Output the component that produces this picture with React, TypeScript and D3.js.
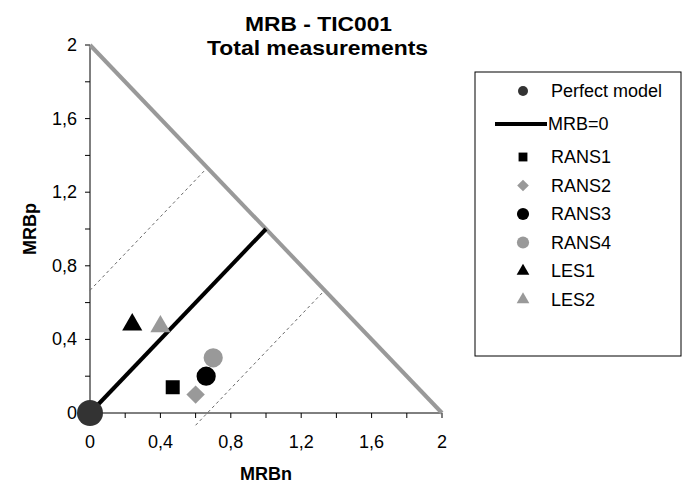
import React from "react";
import * as d3 from "d3";

const seriesNames = ["RANS1", "RANS2", "RANS3", "RANS4", "LES1", "LES2"];
const mrbN = [0.47, 0.6, 0.66, 0.7, 0.24, 0.4];
const mrbP = [0.14, 0.1, 0.2, 0.3, 0.48, 0.47];
const shapes = ["square", "diamond", "circle", "circle", "triangle", "triangle"];
const fills = ["#000", "#999", "#000", "#999", "#000", "#999"];

const tickValues = [0, 0.4, 0.8, 1.2, 1.6, 2];
const minorTicks = d3.range(0, 2.01, 0.2);

// MRB = 0 line and the two dashed guide lines
const zeroLine = [[0, 0], [1, 1]];
const guideUpper = [[0, 2 / 3], [2 / 3, 4 / 3]];
const guideLower = [[0.6, -1 / 15], [4 / 3, 2 / 3]];
const boundary = [[0, 2], [2, 0]];

const W = 684;
const H = 484;
const font = "Arial, 'Liberation Sans', sans-serif";

const symbolPath = (shape: string, big: boolean) => {
  const k = big ? 1 : 0.4;
  if (shape === "square") return d3.symbol(d3.symbolSquare, 196 * k)();
  if (shape === "diamond") return d3.symbol(d3.symbolSquare, 170 * k)();
  if (shape === "triangle") return d3.symbol(d3.symbolTriangle, 175 * k)();
  return d3.symbol(d3.symbolCircle, 290 * k)();
};

export default function App() {
  const x = d3.scaleLinear().domain([0, 2]).range([90, 442]);
  const y = d3.scaleLinear().domain([0, 2]).range([413, 45]);
  const line = d3
    .line<number[]>()
    .x((d) => x(d[0]))
    .y((d) => y(d[1]));

  const legendRows = [
    { label: "Perfect model", y: 91 },
    { label: "MRB=0", y: 124 },
    ...seriesNames.map((s, i) => ({ label: s, y: 157 + i * 28.5 })),
  ];

  return (
    <svg
      width={W}
      height={H}
      style={{ position: "absolute", left: 0, top: 0, background: "#fff" }}
      fontFamily={font}
    >
      <rect width={W} height={H} fill="#fff" />
      <text x={245} y={31} fontSize={20} fontWeight="bold" textLength={147} lengthAdjust="spacingAndGlyphs">
        MRB - TIC001
      </text>
      <text x={207} y={55} fontSize={20} fontWeight="bold" textLength={221} lengthAdjust="spacingAndGlyphs">
        Total measurements
      </text>

      {/* axes */}
      <line x1={x(0)} x2={x(0)} y1={y(0)} y2={y(2)} stroke="#000" />
      <line x1={x(0)} x2={x(2)} y1={y(0)} y2={y(0)} stroke="#000" />
      {minorTicks.map((t) => (
        <g key={"t" + t}>
          <line x1={x(0) - 5} x2={x(0)} y1={y(t)} y2={y(t)} stroke="#000" />
          <line x1={x(t)} x2={x(t)} y1={y(0)} y2={y(0) + 5} stroke="#000" />
        </g>
      ))}
      {tickValues.map((t) => (
        <g key={"l" + t} fontSize={18}>
          <text x={x(0) - 13} y={y(t) + 6} textAnchor="end">
            {String(t).replace(".", ",")}
          </text>
          <text x={x(t)} y={y(0) + 35} textAnchor="middle">
            {String(t).replace(".", ",")}
          </text>
        </g>
      ))}
      <text x={266} y={480} textAnchor="middle" fontSize={18} fontWeight="bold">
        MRBn
      </text>
      <text
        transform={`translate(36,${y(1)}) rotate(-90)`}
        textAnchor="middle"
        fontSize={18}
        fontWeight="bold"
      >
        MRBp
      </text>

      {/* guides */}
      <path d={line(guideUpper)!} stroke="#666" strokeWidth={1} strokeDasharray="3,3" fill="none" />
      <path d={line(guideLower)!} stroke="#666" strokeWidth={1} strokeDasharray="3,3" fill="none" />
      <path d={line(boundary)!} stroke="#999" strokeWidth={4} fill="none" />
      <path d={line(zeroLine)!} stroke="#000" strokeWidth={4} fill="none" />

      {/* points */}
      <circle cx={x(0)} cy={y(0)} r={13} fill="#333" />
      {seriesNames.map((s, i) => (
        <path
          key={s}
          d={symbolPath(shapes[i], true)!}
          fill={fills[i]}
          transform={`translate(${x(mrbN[i])},${y(mrbP[i])})${shapes[i] === "diamond" ? " rotate(45)" : ""}`}
        />
      ))}

      {/* legend */}
      <rect x={475} y={72} width={206} height={284} fill="#fff" stroke="#000" strokeWidth={1} />
      {legendRows.map((r, i) => (
        <g key={r.label}>
          {i === 0 && <circle cx={523} cy={r.y} r={5} fill="#333" />}
          {i === 1 && <line x1={495} x2={547} y1={r.y} y2={r.y} stroke="#000" strokeWidth={4} />}
          {i > 1 && (
            <path
              d={symbolPath(shapes[i - 2], false)!}
              fill={fills[i - 2]}
              transform={`translate(523,${r.y})${shapes[i - 2] === "diamond" ? " rotate(45)" : ""}`}
            />
          )}
          <text x={i === 1 ? 548 : 551} y={r.y + 6} fontSize={18}>
            {r.label}
          </text>
        </g>
      ))}
    </svg>
  );
}
